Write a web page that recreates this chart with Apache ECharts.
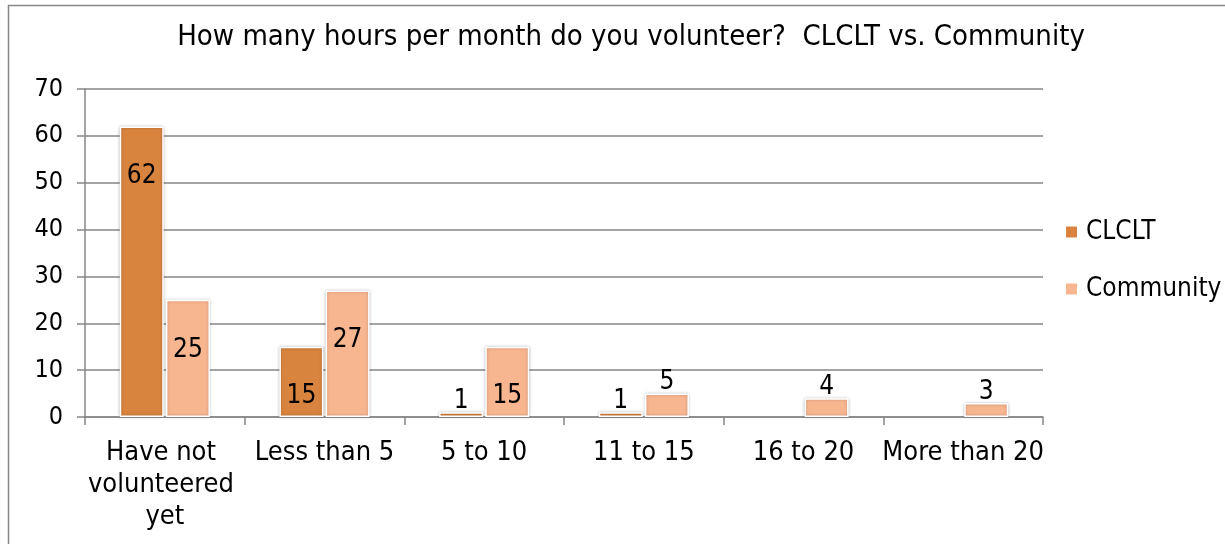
<!DOCTYPE html>
<html>
<head>
<meta charset="utf-8">
<script src="https://cdn.jsdelivr.net/npm/echarts@6/dist/echarts.min.js"></script>
<style>html,body{margin:0;padding:0;background:#fff}#c{width:1225px;height:544px}</style>
</head>
<body>
<div id="c"></div>
<script>
var categories = ['Have not volunteered yet', 'Less than 5', '5 to 10', '11 to 15', '16 to 20', 'More than 20'];
var clclt = [62, 15, 1, 1, 0, 0];
var community = [25, 27, 15, 5, 4, 3];
var yTicks = [0, 10, 20, 30, 40, 50, 60, 70];

var FONT = 'DejaVu Sans Condensed';

function mk(vals) {
  return vals.map(function (v) {
    if (v === 0) return { value: 0, label: { show: false }, itemStyle: { borderWidth: 0, shadowBlur: 0 } };
    var small = v < 10;
    return {
      value: v,
      label: small ? { position: 'top', distance: -2 } : { position: 'insideTop', distance: 37 }
    };
  });
}

var chart = echarts.init(document.getElementById('c'));
chart.setOption({
  animation: false,
  textStyle: { fontFamily: FONT },
  title: {
    text: 'How many hours per month do you volunteer?  CLCLT vs. Community',
    left: 626, top: 18, textAlign: 'center',
    textStyle: { fontFamily: FONT, fontSize: 29, fontWeight: 'normal', color: '#000' }
  },
  graphic: [{
    type: 'rect', shape: { x: 8.5, y: 5.5, width: 1300, height: 600 },
    style: { fill: 'none', stroke: '#868686', lineWidth: 1.5 }, z: -1
  }],
  legend: {
    orient: 'vertical', left: 1059, top: 214,
    itemWidth: 13, itemHeight: 13, itemGap: 31,
    icon: 'rect',
    textStyle: { fontFamily: FONT, fontSize: 26, color: '#000', padding: [0, 0, 0, 3] },
    data: ['CLCLT', 'Community']
  },
  grid: { left: 85, top: 89, right: 182, bottom: 127, containLabel: false },
  xAxis: {
    type: 'category', data: categories,
    axisLine: { lineStyle: { color: '#868686', width: 1.5 } },
    axisTick: { show: true, length: 8, lineStyle: { color: '#868686', width: 1.5 } },
    axisLabel: {
      interval: 0, margin: 20, color: '#000', fontFamily: FONT, fontSize: 27,
      lineHeight: 32, width: 180, overflow: 'break'
    }
  },
  yAxis: {
    type: 'value', min: yTicks[0], max: yTicks[yTicks.length - 1], interval: yTicks[1] - yTicks[0],
    axisLine: { show: true, lineStyle: { color: '#868686', width: 1.5 } },
    axisTick: { show: true, length: 8, lineStyle: { color: '#868686', width: 1.5 } },
    splitLine: { lineStyle: { color: '#868686', width: 1.5 } },
    axisLabel: { margin: 22, color: '#000', fontFamily: FONT, fontSize: 25 }
  },
  series: [
    {
      name: 'CLCLT', type: 'bar', data: mk(clclt), barWidth: 44, barGap: '5%',
      itemStyle: { color: '#D9843E', borderColor: '#fff', borderWidth: 1.5, shadowBlur: 3, shadowColor: 'rgba(0,0,0,0.25)' },
      label: { show: true, color: '#000', fontFamily: FONT, fontSize: 26 }
    },
    {
      name: 'Community', type: 'bar', data: mk(community), barWidth: 44, barGap: '5%',
      itemStyle: { color: '#F8B690', borderColor: '#fff', borderWidth: 1.5, shadowBlur: 3, shadowColor: 'rgba(0,0,0,0.25)' },
      label: { show: true, color: '#000', fontFamily: FONT, fontSize: 26 }
    }
  ]
});
</script>
</body>
</html>
